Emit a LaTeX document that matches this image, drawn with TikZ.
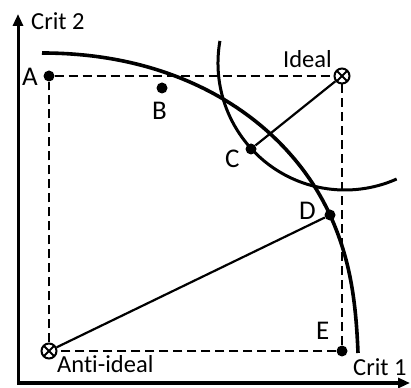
\documentclass[tikz,border=0pt]{standalone}
\usepackage{fontspec}
\setmainfont{Carlito}[Ligatures=CommonOff]
\usetikzlibrary{arrows.meta,positioning}

\begin{document}
\begin{tikzpicture}[x=1pt,y=1pt,
      axis/.style={line width=3pt,{Triangle[width=10pt,length=12pt]}-{Triangle[width=10pt,length=12pt]}},
      frontier/.style={line width=3.6pt},
      guide/.style={line width=2.4pt,dash pattern=on 9pt off 5pt},
      link/.style={line width=2.2pt},
      dot/.style={circle,fill,inner sep=0pt,minimum size=11pt},
      refpt/.style={circle,draw,fill=white,line width=2pt,inner sep=0pt,minimum size=15pt,
                 path picture={\draw[line width=1.8pt]
                   (path picture bounding box.north west) -- (path picture bounding box.south east)
                   (path picture bounding box.north east) -- (path picture bounding box.south west);}},
      lbl/.style={anchor=base west,inner sep=0pt,font=\fontsize{27}{30}\selectfont},
      axlbl/.style={anchor=base west,inner sep=0pt,font=\fontsize{24.5}{28}\selectfont}]
    \useasboundingbox (0,0) rectangle (411,387);
    % axes
    \coordinate (O) at (18,4);
    \coordinate (ytip) at (18,373);
    \coordinate (xtip) at (410,4);
    \draw[axis] (ytip) -- (O) -- (xtip);
    \node[axlbl] (crit2) at (31,357) {Crit 2};
    \node[axlbl] (crit1) at (353,12) {Crit 1};
    % points
    \node[dot] (A) at (49,311) {};
    \node[dot] (B) at (162,299) {};
    \node[dot] (C) at (251,238) {};
    \node[dot] (D) at (330,172) {};
    \node[dot] (E) at (342,36) {};
    % curves
    \draw[frontier] (42,334) .. controls (192,334) and (290.5,258.4) .. (D.center)
                    .. controls (350.8,126.5) and (356,84) .. (358,34);
    \draw[frontier,line width=3pt] (345,324) ++(170:127) arc[start angle=170,end angle=294,radius=127];
    \node[refpt] (ideal) at (342,311) {};
    \node[refpt] (anti) at (49,36) {};
    \draw[guide] (A) -- (ideal) -- (E) -- (anti) -- (A);
    \draw[link] (C) -- (ideal);
    \draw[link] (D) -- (anti);
    % labels
    \node[lbl] (labA) at (22,301) {A};
    \node[lbl] (labB) at (152,267) {B};
    \node[lbl] (labC) at (225,219) {C};
    \node[lbl] (labD) at (299,167) {D};
    \node[lbl] (labE) at (316,47) {E};
    \node[axlbl] (labideal) at (283,319) {Ideal};
    \node[axlbl] (labanti) at (57,14) {Anti-ideal};
\end{tikzpicture}
\end{document}
